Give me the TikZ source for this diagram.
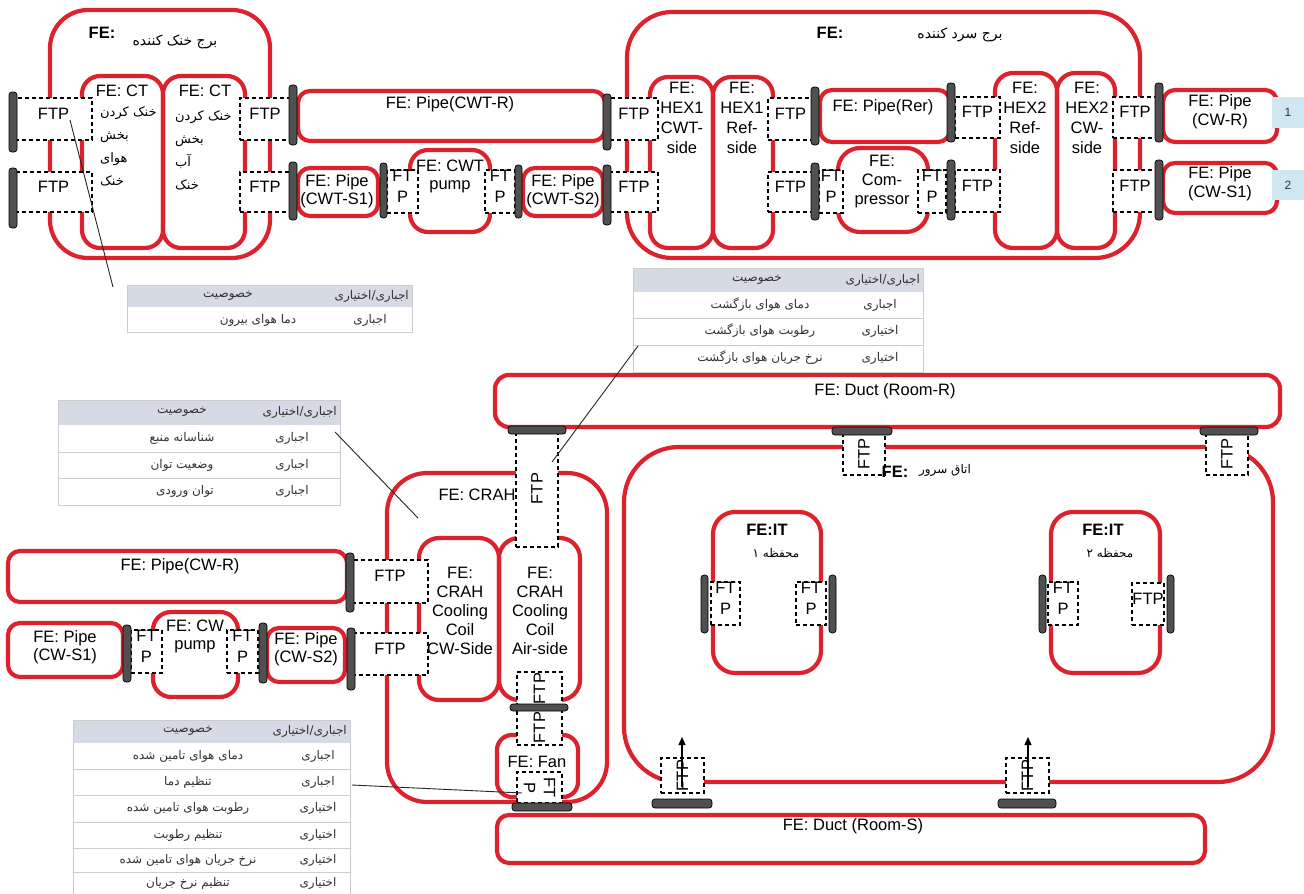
\documentclass[tikz,border=0pt]{standalone}
\usepackage{fontspec}
\setmainfont{Liberation Sans}
\newfontfamily\farsi[Script=Arabic]{DejaVu Sans}
\TeXXeTstate=1
\usetikzlibrary{fit,arrows.meta}
\definecolor{myred}{RGB}{220,35,45}
\definecolor{bargray}{RGB}{80,80,80}
\definecolor{hdrgray}{RGB}{214,218,228}
\definecolor{tline}{RGB}{205,205,205}
\definecolor{lblue}{RGB}{206,231,241}
\definecolor{ttext}{RGB}{50,50,50}
\newcommand\fatx[1]{{\farsi\beginR #1\endR}}
\begin{document}
\begin{tikzpicture}[x=1pt,y=-1pt,
  rbox/.style={draw=myred, line width=4.2pt, inner sep=0pt, rounded corners=#1},
  rbox/.default=14pt,
  ftp/.style={draw=black, dash pattern=on 4pt off 3pt, line width=1.2pt, fill=white, inner sep=0pt, align=center, font=\fontsize{16.5}{21}\selectfont},
  bar/.style={draw=black, line width=0.7pt, fill=bargray, rounded corners=3pt, inner sep=0pt},
  lbl/.style={font=\fontsize{16.5}{20}\selectfont, align=center, inner sep=0pt},
  lblb/.style={font=\bfseries\fontsize{16.5}{20}\selectfont, inner sep=0pt},
  fa/.style={font=\fontsize{13}{23}\selectfont, inner sep=0pt},
  tfa/.style={font=\fontsize{12}{14}\selectfont, text=ttext, inner sep=0pt},
  tblbox/.style={draw=tline, line width=0.8pt, fill=white, inner sep=0pt},
  callout/.style={draw=black!85, line width=0.9pt},
  numlbl/.style={fill=lblue, inner sep=0pt},
]
\fill[white] (0,0) rectangle (1304,894);
\useasboundingbox (0,0) rectangle (1304,894);

% ---------- red boxes
\node[rbox=38pt, fit={(50,10)(270,258)}] (ctout) {};
\node[rbox=18pt, fit={(82,76)(163,248)}] (ct1) {};
\node[rbox=18pt, fit={(163,76)(245,248)}] (ct2) {};
\node[rbox=45pt, fit={(627,12)(1140,258)}] (cout) {};
\node[rbox=18pt, fit={(650,77)(713,248)}] (hx1a) {};
\node[rbox=18pt, fit={(713,77)(773,248)}] (hx1b) {};
\node[rbox=18pt, fit={(995,73)(1057,248)}] (hx2a) {};
\node[rbox=18pt, fit={(1057,73)(1115,248)}] (hx2b) {};
\node[rbox=12pt, fit={(298,91)(605,141)}] (pcwtr) {};
\node[rbox=12pt, fit={(298,168)(378,216)}] (pcwts1) {};
\node[rbox=18pt, fit={(410,150)(490,232)}] (cwtpump) {};
\node[rbox=12pt, fit={(523,168)(603,216)}] (pcwts2) {};
\node[rbox=12pt, fit={(820,90)(950,142)}] (prer) {};
\node[rbox=22pt, fit={(838,148)(928,232)}] (comp) {};
\node[rbox=12pt, fit={(1163,90)(1277,142)}] (pcwr) {};
\node[rbox=12pt, fit={(1163,163)(1277,213)}] (pcws1) {};

\node[rbox=12pt, fit={(8,551)(347,602)}] (pcwr2) {};
\node[rbox=12pt, fit={(8,623)(123,677)}] (pcws1b) {};
\node[rbox=18pt, fit={(153,612)(238,697)}] (cwpump) {};
\node[rbox=12pt, fit={(267,628)(345,682)}] (pcws2b) {};
\node[rbox=40pt, fit={(387,473)(607,802)}] (crah) {};
\node[rbox=20pt, fit={(419,538)(499,700)}] (cwside) {};
\node[rbox=20pt, fit={(499,538)(580,700)}] (airside) {};
\node[rbox=15pt, fit={(497,735)(578,797)}] (fan) {};
\node[rbox=14pt, fit={(495,375)(1280,427)}] (ductr) {};
\node[rbox=55pt, fit={(624,447)(1273,782)}] (room) {};
\node[rbox=22pt, fit={(713,512)(821,673)}] (it1) {};
\node[rbox=22pt, fit={(1051,512)(1160,673)}] (it2) {};
\node[rbox=12pt, fit={(497,815)(1205,863)}] (ducts) {};

% ---------- number labels
\node[numlbl, fit={(1272,97)(1304,128)}] (n1) {};
\node[numlbl, fit={(1272,170)(1304,200)}] (n2) {};
\node[font=\fontsize{12}{14}\selectfont, text=ttext] (n1t) at (n1.center) {1};
\node[font=\fontsize{12}{14}\selectfont, text=ttext] (n2t) at (n2.center) {2};

% ---------- FTPs
\node[ftp, fit={(15,98)(92,140)}] (fa1) {FTP};
\node[ftp, fit={(15,172)(92,212)}] (fa2) {FTP};
\node[ftp, fit={(240,98)(290,140)}] (fa3) {FTP};
\node[ftp, fit={(240,172)(290,212)}] (fa4) {FTP};
\node[ftp, fit={(387,170)(418,213)}] (fa5) {FT\\P};
\node[ftp, fit={(485,170)(515,213)}] (fa6) {FT\\P};
\node[ftp, fit={(610,98)(658,140)}] (fb1) {FTP};
\node[ftp, fit={(610,172)(658,212)}] (fb2) {FTP};
\node[ftp, fit={(768,98)(813,140)}] (fb3) {FTP};
\node[ftp, fit={(768,172)(813,212)}] (fb4) {FTP};
\node[ftp, fit={(819,170)(843,213)}] (fb5) {FT\\P};
\node[ftp, fit={(918,170)(946,213)}] (fb6) {FT\\P};
\node[ftp, fit={(955,97)(1000,138)}] (fb7) {FTP};
\node[ftp, fit={(955,170)(1000,212)}] (fb8) {FTP};
\node[ftp, fit={(1113,97)(1157,138)}] (fb9) {FTP};
\node[ftp, fit={(1113,170)(1157,212)}] (fb10) {FTP};

\node[ftp, fit={(131,630)(162,673)}] (fc1) {FT\\P};
\node[ftp, fit={(227,630)(258,673)}] (fc2) {FT\\P};
\node[ftp, fit={(352,560)(428,603)}] (fc3) {FTP};
\node[ftp, fit={(352,633)(428,675)}] (fc4) {FTP};
\node[ftp, fit={(516,430)(558,547)}] (fc5) {};
\node[ftp, fit={(517,672)(562,705)}] (fc6) {};
\node[ftp, fit={(517,710)(562,745)}] (fc7) {};
\node[ftp, fit={(517,772)(562,803)}] (fc8) {};
\node[ftp, fit={(843,433)(885,475)}] (fd1) {};
\node[ftp, fit={(1206,433)(1248,475)}] (fd2) {};
\node[ftp, fit={(711,582)(740,625)}] (fd3) {FT\\P};
\node[ftp, fit={(796,582)(826,625)}] (fd4) {FT\\P};
\node[ftp, fit={(1048,582)(1078,625)}] (fd5) {FT\\P};
\node[ftp, fit={(1132,583)(1164,625)}] (fd6) {FTP};
\node[ftp, fit={(661,758)(704,793)}] (fd7) {};
\node[ftp, fit={(1006,758)(1049,793)}] (fd8) {};

\node[lbl, rotate=90] (fc5t) at (fc5.center) {FTP};
\node[lbl, rotate=90] (fc6t) at (fc6.center) {FTP};
\node[lbl, rotate=90] (fc7t) at (fc7.center) {FTP};
\node[lbl, rotate=-90] (fc8t) at (fc8.center) {FT\\P};
\node[lbl, rotate=90] (fd1t) at (fd1.center) {FTP};
\node[lbl, rotate=90] (fd2t) at (fd2.center) {FTP};
\node[lbl, rotate=90] (fd7t) at (fd7.center) {FTP};
\node[lbl, rotate=90] (fd8t) at (fd8.center) {FTP};

% ---------- bars
\node[bar, fit={(9,92)(17,152)}] (ba1) {};
\node[bar, fit={(9,168)(17,228)}] (ba2) {};
\node[bar, fit={(289,85)(297,145)}] (ba3) {};
\node[bar, fit={(289,162)(297,220)}] (ba4) {};
\node[bar, fit={(380,163)(387,218)}] (ba5) {};
\node[bar, fit={(515,165)(522,218)}] (ba6) {};
\node[bar, fit={(603,94)(611,150)}] (ba7) {};
\node[bar, fit={(603,165)(611,225)}] (ba8) {};
\node[bar, fit={(811,87)(819,145)}] (bb1) {};
\node[bar, fit={(811,163)(819,220)}] (bb2) {};
\node[bar, fit={(947,83)(955,142)}] (bb3) {};
\node[bar, fit={(947,160)(955,220)}] (bb4) {};
\node[bar, fit={(1155,83)(1163,142)}] (bb5) {};
\node[bar, fit={(1155,160)(1163,220)}] (bb6) {};

\node[bar, fit={(123,625)(131,682)}] (bc1) {};
\node[bar, fit={(259,623)(267,683)}] (bc2) {};
\node[bar, fit={(346,553)(354,612)}] (bc3) {};
\node[bar, fit={(347,628)(355,690)}] (bc4) {};
\node[bar, fit={(508,426)(566,434)}] (bc5) {};
\node[bar, fit={(510,704)(568,711)}] (bc6) {};
\node[bar, fit={(512,803)(572,811)}] (bc7) {};
\node[bar, fit={(832,427)(892,435)}] (bd1) {};
\node[bar, fit={(1200,427)(1258,435)}] (bd2) {};
\node[bar, fit={(701,575)(708,633)}] (bd3) {};
\node[bar, fit={(829,575)(836,633)}] (bd4) {};
\node[bar, fit={(1039,575)(1046,633)}] (bd5) {};
\node[bar, fit={(1167,575)(1174,633)}] (bd6) {};
\node[bar, fit={(652,799)(712,808)}] (bd7) {};
\node[bar, fit={(998,799)(1056,808)}] (bd8) {};

% ---------- arrows
\coordinate (ar1s) at (682,787);
\coordinate (ar1e) at (682,737);
\coordinate (ar2s) at (1028,787);
\coordinate (ar2e) at (1028,737);
\draw[line width=1.3pt, -{Triangle[length=8pt,width=7pt]}] (ar1s) -- (ar1e);
\draw[line width=1.3pt, -{Triangle[length=8pt,width=7pt]}] (ar2s) -- (ar2e);

% ---------- texts
\node[lblb] (t1) at (102,33) {FE:};
\node[fa, font=\fontsize{14}{16}\selectfont] (t2) at (175,42) {\fatx{برج خنک کننده}};
\node[lbl] (t3) at (122,91) {FE: CT};
\node[lbl] (t4) at (205,91) {FE: CT};
\node[fa, align=left, anchor=north west] (t5) at (100,106) {\fatx{خنک کردن}\\\fatx{بخش}\\\fatx{هوای}\\\fatx{خنک}};
\node[fa, align=left, anchor=north west] (t6) at (175,110) {\fatx{خنک کردن}\\\fatx{بخش}\\\fatx{آب}\\\fatx{خنک}};
\node[lbl] (t7) at (450,104) {FE: Pipe(CWT-R)};
\node[lbl, font=\fontsize{16.5}{18}\selectfont] (t8) at (337,191) {FE: Pipe\\(CWT-S1)};
\node[lbl, font=\fontsize{16.5}{18}\selectfont] (t9) at (450,176) {FE: CWT\\pump};
\node[lbl, font=\fontsize{16.5}{18}\selectfont] (t10) at (563,191) {FE: Pipe\\(CWT-S2)};

\node[lblb] (t11) at (830,33) {FE:};
\node[fa, font=\fontsize{14}{16}\selectfont] (t12) at (960,35) {\fatx{برج سرد کننده}};
\node[lbl] (t13) at (682,118) {FE:\\HEX1\\CWT-\\side};
\node[lbl] (t14) at (742,118) {FE:\\HEX1\\Ref-\\side};
\node[lbl] (t15) at (883,107) {FE: Pipe(Rer)};
\node[lbl, font=\fontsize{16.5}{19}\selectfont] (t16) at (882,182) {FE:\\Com-\\pressor};
\node[lbl] (t17) at (1025,118) {FE:\\HEX2\\Ref-\\side};
\node[lbl] (t18) at (1087,118) {FE:\\HEX2\\CW-\\side};
\node[lbl, font=\fontsize{16.5}{19}\selectfont] (t19) at (1220,112) {FE: Pipe\\(CW-R)};
\node[lbl, font=\fontsize{16.5}{19}\selectfont] (t20) at (1220,184) {FE: Pipe\\(CW-S1)};

\node[lbl] (t21) at (180,566) {FE: Pipe(CW-R)};
\node[lbl, font=\fontsize{16.5}{18}\selectfont] (t22) at (65,647) {FE: Pipe\\(CW-S1)};
\node[lbl, font=\fontsize{16.5}{18}\selectfont] (t23) at (195,636) {FE: CW\\pump};
\node[lbl, font=\fontsize{16.5}{18}\selectfont] (t24) at (306,649) {FE: Pipe\\(CW-S2)};

\node[lbl] (t25) at (477,495) {FE: CRAH};
\node[lbl, font=\fontsize{16.5}{19}\selectfont] (t26) at (460,611) {FE:\\CRAH\\Cooling\\Coil\\CW-Side};
\node[lbl, font=\fontsize{16.5}{19}\selectfont] (t27) at (540,611) {FE:\\CRAH\\Cooling\\Coil\\Air-side};
\node[lbl] (t28) at (537,762) {FE: Fan};

\node[lbl] (t29) at (885,391) {FE: Duct (Room-R)};
\node[lbl] (t30) at (853,826) {FE: Duct (Room-S)};
\node[lblb] (t31) at (895,472) {FE:};
\node[fa, font=\fontsize{12}{14}\selectfont] (t32) at (945,470) {\fatx{اتاق سرور}};
\node[lblb] (t33) at (767,530) {FE:IT};
\node[fa, font=\fontsize{12}{14}\selectfont] (t34) at (776,553) {\fatx{محفظه ۱}};
\node[lblb] (t35) at (1103,530) {FE:IT};
\node[fa, font=\fontsize{12}{14}\selectfont] (t36) at (1110,553) {\fatx{محفظه ۲}};

% ---------- tables
% table 1
\node[tblbox, fit={(127,285)(412,332)}] (tab1) {};
\fill[hdrgray] (127,285) rectangle (412,307);
\draw[tline, line width=0.8pt] (127,285) rectangle (412,332);
\node[tfa, anchor=east] (tab1h1) at (409,296) {\fatx{اجباری/اختیاری}};
\node[tfa] (tab1h2) at (228,296) {\fatx{خصوصیت}};
\node[tfa] (tab1r1) at (370,320) {\fatx{اجباری}};
\node[tfa] (tab1r2) at (258,320) {\fatx{دما هوای بیرون}};

% table 2
\node[tblbox, fit={(633,268)(923,372)}] (tab2) {};
\fill[hdrgray] (633,268) rectangle (923,292);
\draw[tline, line width=0.8pt] (633,318) -- (923,318) (633,345) -- (923,345);
\draw[tline, line width=0.8pt] (633,268) rectangle (923,372);
\node[tfa, anchor=east] (tab2h1) at (920,280) {\fatx{اجباری/اختیاری}};
\node[tfa] (tab2h2) at (757,280) {\fatx{خصوصیت}};
\node[tfa] (tab2a1) at (880,305) {\fatx{اجباری}};
\node[tfa] (tab2b1) at (760,305) {\fatx{دمای هوای بازگشت}};
\node[tfa] (tab2a2) at (880,331) {\fatx{اختیاری}};
\node[tfa] (tab2b2) at (760,331) {\fatx{رطوبت هوای بازگشت}};
\node[tfa] (tab2a3) at (880,358) {\fatx{اختیاری}};
\node[tfa] (tab2b3) at (760,358) {\fatx{نرخ جریان هوای بازگشت}};

% table 3
\node[tblbox, fit={(58,400)(340,505)}] (tab3) {};
\fill[hdrgray] (58,400) rectangle (340,425);
\draw[tline, line width=0.8pt] (58,452) -- (340,452) (58,478) -- (340,478);
\draw[tline, line width=0.8pt] (58,400) rectangle (340,505);
\node[tfa, anchor=east] (tab3h1) at (337,412) {\fatx{اجباری/اختیاری}};
\node[tfa] (tab3h2) at (182,412) {\fatx{خصوصیت}};
\node[tfa] (tab3a1) at (292,438) {\fatx{اجباری}};
\node[tfa] (tab3b1) at (182,438) {\fatx{شناسانه منبع}};
\node[tfa] (tab3a2) at (292,465) {\fatx{اجباری}};
\node[tfa] (tab3b2) at (182,465) {\fatx{وضعیت  توان}};
\node[tfa] (tab3a3) at (292,491) {\fatx{اجباری}};
\node[tfa] (tab3b3) at (185,491) {\fatx{توان ورودی}};

% table 4
\node[tblbox, fit={(73,720)(350,894)}] (tab4) {};
\fill[hdrgray] (73,720) rectangle (350,743);
\draw[tline, line width=0.8pt] (73,769) -- (350,769) (73,795) -- (350,795) (73,822) -- (350,822) (73,848) -- (350,848) (73,872) -- (350,872);
\draw[tline, line width=0.8pt] (73,720) rectangle (350,894);
\node[tfa, anchor=east] (tab4h1) at (347,731) {\fatx{اجباری/اختیاری}};
\node[tfa] (tab4h2) at (188,731) {\fatx{خصوصیت}};
\node[tfa] (tab4a1) at (318,756) {\fatx{اجباری}};
\node[tfa] (tab4b1) at (188,756) {\fatx{دمای هوای تامین شده}};
\node[tfa] (tab4a2) at (318,782) {\fatx{اجباری}};
\node[tfa] (tab4b2) at (188,782) {\fatx{تنظیم دما}};
\node[tfa] (tab4a3) at (318,808) {\fatx{اختیاری}};
\node[tfa] (tab4b3) at (188,808) {\fatx{رطوبت هوای تامین شده}};
\node[tfa] (tab4a4) at (318,835) {\fatx{اختیاری}};
\node[tfa] (tab4b4) at (188,835) {\fatx{تنظیم رطوبت}};
\node[tfa] (tab4a5) at (318,860) {\fatx{اختیاری}};
\node[tfa] (tab4b5) at (188,860) {\fatx{نرخ جریان هوای تامین شده}};
\node[tfa] (tab4a6) at (318,883) {\fatx{اختیاری}};
\node[tfa] (tab4b6) at (188,883) {\fatx{تنظیم نرخ جریان}};

% ---------- callout lines
\coordinate (k1a) at (70,120);
\coordinate (k1b) at (113,287);
\coordinate (k2a) at (638,346);
\coordinate (k2b) at (552,462);
\coordinate (k3a) at (335,432);
\coordinate (k3b) at (418,518);
\coordinate (k4a) at (352,785);
\coordinate (k4b) at (522,793);
\draw[callout] (k1a) -- (k1b);
\draw[callout] (k2a) -- (k2b);
\draw[callout] (k3a) -- (k3b);
\draw[callout] (k4a) -- (k4b);
\end{tikzpicture}
\end{document}
